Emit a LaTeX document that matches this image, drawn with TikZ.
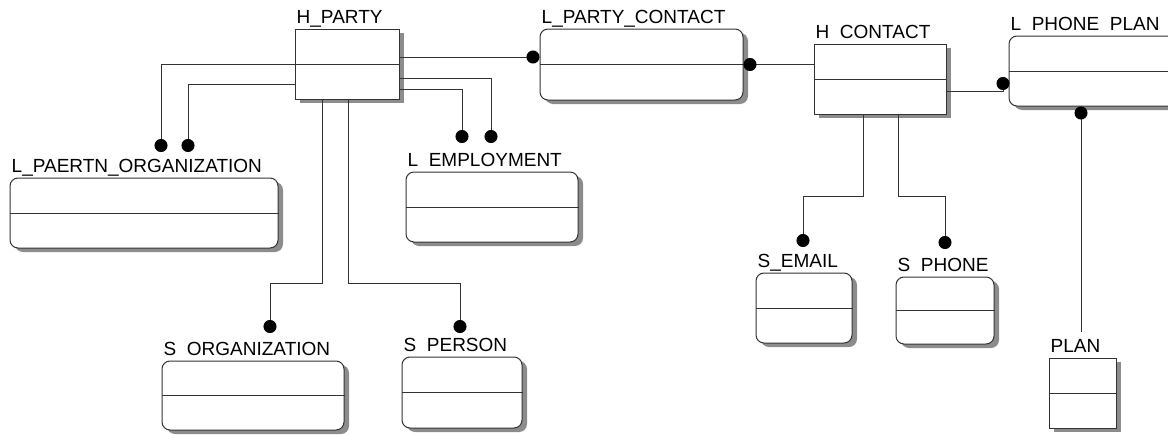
\documentclass[tikz,border=0pt]{standalone}
\usepackage{fontspec}
\setmainfont{Liberation Sans}
\usetikzlibrary{arrows.meta}
\usetikzlibrary{shadows}

\tikzset{
   entity/.style={
      draw=black!80,
      fill=white,
      line width=1pt,
      inner sep=0pt,
      minimum width=#1,
      minimum height=70pt,
      general shadow={shadow xshift=5pt, shadow yshift=-4pt, fill=black!45}
   },
   roundentity/.style={entity=#1, rounded corners=8pt},
   title/.style={anchor=base west, inner sep=0pt, xshift=2pt, yshift=5pt,
      font=\fontsize{19}{19}\selectfont},
   rel/.style={draw=black!80, line width=1pt},
   dot/.style={-{Circle[length=13pt, black]}},
   tod/.style={{Circle[length=13pt, black]}-}
}

\begin{document}
\begin{tikzpicture}[x=1pt, y=-1pt]
   \useasboundingbox (0,0) rectangle (1168,434);
   \clip (0,0) rectangle (1168,434);

   % hubs
   \node[entity=104pt, label={[title]north west:H\_PARTY}] (hparty) at (347,64) {};
   \node[entity=132pt, label={[title]north west:H\ \ CONTACT}] (hcontact) at (880,79) {};
   \node[entity=67pt, label={[title]north west:PLAN}] (plan) at (1082.5,393) {};

   % links
   \node[roundentity=268pt, label={[title]north west:L\_PAERTN\_ORGANIZATION}] (lpaertn) at (144,213) {};
   \node[roundentity=203pt, minimum height=71pt, label={[title]north west:L\_PARTY\_CONTACT}] (lpartycontact) at (641.5,64.5) {};
   \node[roundentity=172pt, label={[title]north west:L\ \ EMPLOYMENT}] (lemployment) at (492,207) {};
   \node[roundentity=171pt, label={[title]north west:L\ \ PHONE\ \ PLAN}] (lphoneplan) at (1094.5,71) {};

   % satellites
   \node[roundentity=182pt, minimum height=69pt, label={[title]north west:S\ \ ORGANIZATION}] (sorganization) at (253,395.5) {};
   \node[roundentity=120pt, minimum height=71pt, label={[title]north west:S\ \ PERSON}] (sperson) at (462,392.5) {};
   \node[roundentity=96pt, label={[title]north west:S\_EMAIL}] (semail) at (804,308) {};
   \node[roundentity=98pt, minimum height=67pt, label={[title]north west:S\ \ PHONE}] (sphone) at (945,310.5) {};

   \foreach \n in {hparty,hcontact,plan,lpaertn,lpartycontact,lemployment,lphoneplan,sorganization,sperson,semail,sphone}
      \draw[rel] (\n.west) -- (\n.east);

   % connector ends
   \coordinate (po1) at (161,152);
   \coordinate (po2) at (188,152);
   \coordinate (pe1) at (491,143);
   \coordinate (pe2) at (462,143);
   \coordinate (so) at (270,333);
   \coordinate (sp) at (460,333);
   \coordinate (se) at (803,247);
   \coordinate (sh) at (945,249);
   \coordinate (cpp) at (1003,77);
   \coordinate (pl) at (1081,332);

   \draw[rel, dot] (hparty.west) -| (po1);
   \draw[rel, dot] ([yshift=-20pt]hparty.west) -| (po2);
   \draw[rel, dot] ([yshift=-14pt]hparty.east) -| (pe1);
   \draw[rel, dot] ([yshift=-25pt]hparty.east) -| (pe2);
   \draw[rel, dot] ([yshift=7pt]hparty.east) -- ([yshift=7pt]hparty.east -| lpartycontact.west);
   \draw[rel, tod] (lpartycontact.east) -- (lpartycontact.east -| hcontact.west);
   \draw[rel, dot] ([yshift=-12pt]hcontact.east) -| (cpp);
   \draw[rel, tod] (lphoneplan.south -| pl) -- (pl);

   \draw[rel, dot] ([xshift=-25pt]hparty.south) -- ++(0,184) -| (so);
   \draw[rel, dot] ([xshift=1pt]hparty.south) -- ++(0,184) -| (sp);
   \draw[rel, dot] ([xshift=-17pt]hcontact.south) -- ++(0,82) -| (se);
   \draw[rel, dot] ([xshift=18pt]hcontact.south) -- ++(0,82) -| (sh);

\end{tikzpicture}
\end{document}
